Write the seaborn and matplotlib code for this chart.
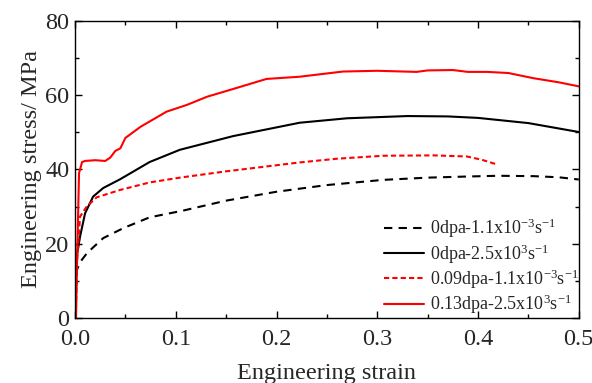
import numpy as np
import pandas as pd
import seaborn as sns
import matplotlib.pyplot as plt
from matplotlib.ticker import MultipleLocator

# curves
strain_a = [0, 0.001, 0.002, 0.005, 0.012, 0.028, 0.048, 0.074, 0.107, 0.15,
            0.2, 0.25, 0.306, 0.35, 0.389, 0.42, 0.455, 0.48, 0.5]
stress_a = [0, 8, 13, 15, 17.5, 21.5, 24.2, 27.1, 28.9, 31.6,
            34, 35.8, 37.2, 37.8, 38.1, 38.3, 38.2, 37.9, 37.3]

strain_b = [0, 0.0005, 0.0017, 0.005, 0.01, 0.018, 0.028, 0.045, 0.074, 0.104,
            0.157, 0.223, 0.27, 0.33, 0.37, 0.4, 0.45, 0.5]
stress_b = [0, 8, 16.5, 21.9, 28.2, 32.7, 35, 37.4, 42, 45.3,
            49, 52.6, 53.8, 54.4, 54.3, 53.9, 52.5, 50.1]

strain_c = [0, 0.001, 0.002, 0.005, 0.0116, 0.0215, 0.045, 0.074, 0.104, 0.15,
            0.223, 0.26, 0.306, 0.356, 0.389, 0.404, 0.417]
stress_c = [0, 3, 15, 27.3, 30, 32.5, 34.5, 36.5, 37.8, 39.5,
            41.9, 42.9, 43.7, 43.8, 43.5, 42.6, 41.5]

strain_d = [0.001, 0.002, 0.004, 0.007, 0.01, 0.02, 0.03, 0.035, 0.04, 0.045,
            0.05, 0.065, 0.091, 0.111, 0.131, 0.157, 0.19, 0.223, 0.266, 0.3,
            0.339, 0.35, 0.375, 0.39, 0.409, 0.43, 0.455, 0.48, 0.5]
stress_d = [0, 15, 39, 42, 42.3, 42.5, 42.3, 43.2, 45, 45.7,
            48.5, 51.5, 55.6, 57.4, 59.6, 61.7, 64.4, 65, 66.4, 66.6,
            66.3, 66.7, 66.8, 66.3, 66.3, 66, 64.6, 63.5, 62.4]

labels = [r'0dpa-1.1x10$^{-3}$s$^{-1}$',
          r'0dpa-2.5x10$^{3}$s$^{-1}$',
          r'0.09dpa-1.1x10$^{-3}$s$^{-1}$',
          r'0.13dpa-2.5x10$^{3}$s$^{-1}$']

sns.set_style('ticks')
plt.rcParams['font.family'] = ['Liberation Serif', 'DejaVu Serif']
plt.rcParams['mathtext.fontset'] = 'custom'
plt.rcParams['mathtext.rm'] = 'Liberation Serif'
plt.rcParams['mathtext.it'] = 'Liberation Serif:italic'

fig = plt.figure(figsize=(5.92, 3.83), dpi=100)
ax = fig.add_axes([0.1267, 0.17, 0.851, 0.775])

series = [(strain_a, stress_a, 'black', (0, (4, 3))),
          (strain_b, stress_b, 'black', '-'),
          (strain_c, stress_c, 'red', (0, (2.5, 1.5))),
          (strain_d, stress_d, 'red', '-')]
for (x, y, c, ls), lab in zip(series, labels):
    df = pd.DataFrame({'strain': x, 'stress': y})
    sns.lineplot(data=df, x='strain', y='stress', ax=ax, color=c,
                 linestyle=ls, linewidth=1.5, sort=False, label=lab)

ax.set_xlim(0, 0.5)
ax.set_ylim(0, 80)
ax.xaxis.set_major_locator(MultipleLocator(0.1))
ax.xaxis.set_minor_locator(MultipleLocator(0.05))
ax.yaxis.set_major_locator(MultipleLocator(20))
ax.yaxis.set_minor_locator(MultipleLocator(10))
ax.set_xticklabels([f'{v:.1f}' for v in ax.get_xticks()])
ax.tick_params(which='both', direction='in', top=True, right=True,
               labelsize=17.5, width=1, color='black')
ax.tick_params(which='major', length=5)
ax.tick_params(which='minor', length=3)
ax.tick_params(axis='x', pad=8)
ax.tick_params(axis='y', pad=4)
for s in ax.spines.values():
    s.set_linewidth(1.0)
    s.set_color('black')

ax.set_xlabel('Engineering strain', fontsize=17.5, labelpad=9)
ax.set_ylabel('Engineering stress/ MPa', fontsize=17.5, labelpad=2)

ax.legend(loc='upper left', bbox_to_anchor=(0.613, 0.34), frameon=False,
          fontsize=13, handlelength=2.2, handletextpad=0.35,
          labelspacing=0.1, borderpad=0, borderaxespad=0)

fig.savefig('out.png', dpi=100)
